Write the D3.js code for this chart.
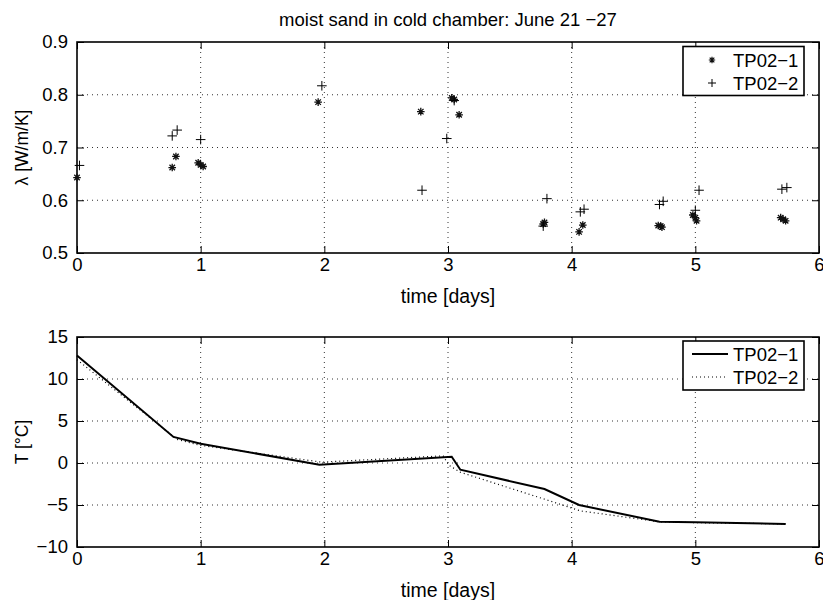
<!DOCTYPE html>
<html>
<head>
<meta charset="utf-8">
<script src="https://cdn.jsdelivr.net/npm/d3@7"></script>
<style>
  body { margin: 0; background: #fff; }
  svg text { font-family: "Liberation Sans", Arial, Helvetica, sans-serif; fill: #000; }
</style>
</head>
<body>
<svg id="chart" width="823" height="600"></svg>
<script>
// thermal conductivity measurements (top panel)
const tp1Time = [0.00, 0.77, 0.80, 0.98, 1.00, 1.02, 1.95, 2.78, 3.03, 3.05, 3.09, 3.77, 3.78, 4.06, 4.09, 4.70, 4.72, 4.73, 4.98, 5.00, 5.01, 5.69, 5.71, 5.73];
const tp1Lambda = [0.643, 0.662, 0.683, 0.671, 0.667, 0.664, 0.786, 0.768, 0.794, 0.791, 0.762, 0.555, 0.558, 0.540, 0.553, 0.552, 0.551, 0.549, 0.572, 0.567, 0.561, 0.567, 0.564, 0.561];
const tp2Time = [0.02, 0.77, 0.81, 1.00, 1.98, 2.79, 2.99, 3.05, 3.77, 3.80, 4.07, 4.10, 4.71, 4.74, 5.00, 5.03, 5.70, 5.74];
const tp2Lambda = [0.666, 0.722, 0.733, 0.715, 0.817, 0.619, 0.717, 0.789, 0.551, 0.603, 0.578, 0.583, 0.592, 0.598, 0.581, 0.619, 0.621, 0.624];

// temperature (bottom panel)
const tp1TempTime = [0.00, 0.78, 1.00, 1.96, 3.03, 3.10, 3.78, 4.06, 4.71, 5.00, 5.73];
const tp1Temp = [12.8, 3.1, 2.3, -0.2, 0.75, -0.8, -3.1, -5.0, -7.0, -7.05, -7.25];
const tp2TempTime = [0.00, 0.81, 1.00, 1.98, 2.96, 3.01, 3.10, 3.80, 4.07, 4.71, 5.00, 5.73];
const tp2Temp = [12.3, 2.8, 2.1, 0.1, 0.85, -0.3, -1.1, -4.4, -5.7, -7.0, -7.1, -7.25];

const xTicks = [0, 1, 2, 3, 4, 5, 6];
const lambdaTicks = [0.5, 0.6, 0.7, 0.8, 0.9];
const tempTicks = [-10, -5, 0, 5, 10, 15];
const seriesNames = ['TP02\u22121', 'TP02\u22122'];

const svg = d3.select('#chart');
const left = 77, right = 819;
const fontSize = 18.5;

function asteriskPath(r) {
    const d = r * 0.72;
    return `M${-r},0H${r}M0,${-r}V${r}M${-d},${-d}L${d},${d}M${-d},${d}L${d},${-d}`;
}
function plusPath(r) {
    return `M${-r},0H${r}M0,${-r}V${r}`;
}

function drawPanel(top, bottom, yDomain, yTicks, yFormat, yLabel) {
    const x = d3.scaleLinear().domain([0, 6]).range([left, right]);
    const y = d3.scaleLinear().domain(yDomain).range([bottom, top]);
    const g = svg.append('g');
    const w = right - left, h = bottom - top;

    // dotted grid
    g.append('g').selectAll('line').data(xTicks.slice(1, -1)).enter().append('line')
        .attr('x1', d => x(d)).attr('x2', d => x(d)).attr('y1', top).attr('y2', bottom)
        .attr('stroke', '#333').attr('stroke-width', 1).attr('stroke-dasharray', '1,4');
    g.append('g').selectAll('line').data(yTicks.slice(1, -1)).enter().append('line')
        .attr('y1', d => y(d)).attr('y2', d => y(d)).attr('x1', left).attr('x2', right)
        .attr('stroke', '#333').attr('stroke-width', 1).attr('stroke-dasharray', '1,4');

    // axes with inward ticks (matlab style)
    const xb = g.append('g').attr('transform', `translate(0,${bottom})`)
        .call(d3.axisBottom(x).tickValues(xTicks).tickFormat(d3.format('d')).tickSizeInner(-7).tickSizeOuter(0).tickPadding(5));
    const xt = g.append('g').attr('transform', `translate(0,${top})`)
        .call(d3.axisTop(x).tickValues(xTicks).tickFormat('').tickSizeInner(-7).tickSizeOuter(0));
    const yl = g.append('g').attr('transform', `translate(${left},0)`)
        .call(d3.axisLeft(y).tickValues(yTicks).tickFormat(yFormat).tickSizeInner(-7).tickSizeOuter(0).tickPadding(9));
    const yr = g.append('g').attr('transform', `translate(${right},0)`)
        .call(d3.axisRight(y).tickValues(yTicks).tickFormat('').tickSizeInner(-7).tickSizeOuter(0));
    [xb, xt, yl, yr].forEach(a => {
        a.select('.domain').remove();
        a.selectAll('line').attr('stroke', '#000').attr('stroke-width', 1);
        a.selectAll('text').style('font-size', fontSize + 'px');
    });

    g.append('rect').attr('x', left).attr('y', top).attr('width', w).attr('height', h)
        .attr('fill', 'none').attr('stroke', '#000').attr('stroke-width', 1.6);

    g.append('text').attr('x', (left + right) / 2).attr('y', bottom + 50)
        .attr('text-anchor', 'middle').style('font-size', '19.5px').text('time [days]');
    g.append('text').attr('transform', `translate(28,${(top + bottom) / 2}) rotate(-90)`)
        .attr('text-anchor', 'middle').style('font-size', '17.5px').text(yLabel);

    return { g, x, y };
}

// title
svg.append('text').attr('x', (left + right) / 2).attr('y', 26)
    .attr('text-anchor', 'middle').style('font-size', '18.5px')
    .text('moist sand in cold chamber: June 21 \u221227');

// top panel: conductivity
const p1 = drawPanel(42, 253, [0.5, 0.9], lambdaTicks, d3.format('.1f'), '\u03bb [W/m/K]');
const pts1 = d3.zip(tp1Time, tp1Lambda);
const pts2 = d3.zip(tp2Time, tp2Lambda);
p1.g.append('g').selectAll('path').data(pts1).enter().append('path')
    .attr('d', asteriskPath(3.8))
    .attr('transform', d => `translate(${p1.x(d[0])},${p1.y(d[1])})`)
    .attr('stroke', '#111').attr('stroke-width', 1.3).attr('fill', 'none');
p1.g.append('g').selectAll('path').data(pts2).enter().append('path')
    .attr('d', plusPath(4.8))
    .attr('transform', d => `translate(${p1.x(d[0])},${p1.y(d[1])})`)
    .attr('stroke', '#000').attr('stroke-width', 1).attr('fill', 'none');

// legend top
const leg1 = p1.g.append('g');
leg1.append('rect').attr('x', 683).attr('y', 46.5).attr('width', 121).attr('height', 49)
    .attr('fill', '#fff').attr('stroke', '#000').attr('stroke-width', 1.6);
leg1.append('path').attr('d', asteriskPath(3.2)).attr('transform', 'translate(712,60)')
    .attr('stroke', '#111').attr('stroke-width', 1.2).attr('fill', 'none');
leg1.append('path').attr('d', plusPath(4)).attr('transform', 'translate(712,83)')
    .attr('stroke', '#000').attr('stroke-width', 1).attr('fill', 'none');
seriesNames.forEach((n, i) => {
    leg1.append('text').attr('x', 733).attr('y', 67 + i * 23).style('font-size', fontSize + 'px').text(n);
});

// bottom panel: temperature
const p2 = drawPanel(337, 547, [-10, 15], tempTicks, d3.format('d'), 'T [\u00b0C]');
const line = d3.line().x(d => p2.x(d[0])).y(d => p2.y(d[1]));
p2.g.append('path').datum(d3.zip(tp2TempTime, tp2Temp)).attr('d', line)
    .attr('fill', 'none').attr('stroke', '#000').attr('stroke-width', 1.2).attr('stroke-dasharray', '1,3');
p2.g.append('path').datum(d3.zip(tp1TempTime, tp1Temp)).attr('d', line)
    .attr('fill', 'none').attr('stroke', '#000').attr('stroke-width', 2);

const leg2 = p2.g.append('g');
leg2.append('rect').attr('x', 683).attr('y', 341).attr('width', 121).attr('height', 49)
    .attr('fill', '#fff').attr('stroke', '#000').attr('stroke-width', 1.6);
leg2.append('line').attr('x1', 692).attr('x2', 728).attr('y1', 354).attr('y2', 354)
    .attr('stroke', '#000').attr('stroke-width', 2);
leg2.append('line').attr('x1', 692).attr('x2', 728).attr('y1', 377).attr('y2', 377)
    .attr('stroke', '#000').attr('stroke-width', 1.2).attr('stroke-dasharray', '1,3');
seriesNames.forEach((n, i) => {
    leg2.append('text').attr('x', 733).attr('y', 361 + i * 23).style('font-size', fontSize + 'px').text(n);
});
</script>
</body>
</html>
